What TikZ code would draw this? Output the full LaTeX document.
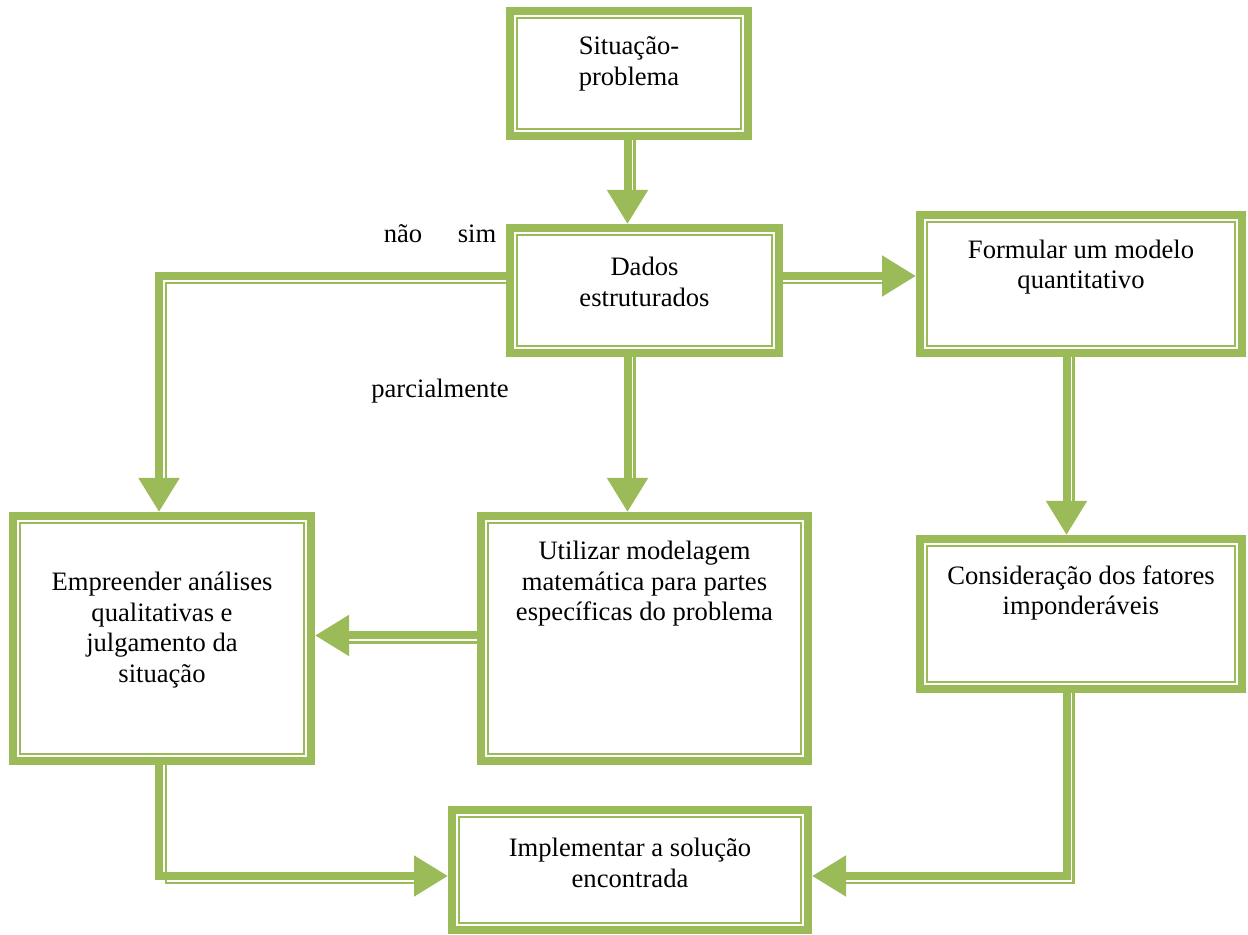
\documentclass[tikz,border=0pt]{standalone}
\usepackage{fontspec}
\setmainfont{Liberation Serif}
\usetikzlibrary{arrows.meta}
\definecolor{verde}{RGB}{155,187,89}
\newcommand{\fonte}{\fontsize{13.3}{15.3}\selectfont}
% box: name, left, top, right, bottom (outer edges), text y, text
\newcommand{\caixa}[7]{
	\pgfmathsetmacro{\largura}{(#4-#2)*50-4}
	\pgfmathsetmacro{\altura}{(#3-#5)*50-4}
	\node[bloco, minimum width=\largura pt, minimum height=\altura pt] (#1) at ({(#2+#4)/2},{(#3+#5)/2}) {};
	\draw[interno] ([shift={(5.5pt,-5.5pt)}]#1.north west) rectangle ([shift={(-5.5pt,5.5pt)}]#1.south east);
	\node[texto] (#1-t) at ({(#2+#4)/2},#6) {#7};
	}

\begin{document}
\begin{tikzpicture}[
      x=50pt, y=50pt,
      bloco/.style={draw=verde, fill=white, line width=4pt, outer sep=2pt, inner sep=0pt},
      interno/.style={draw=verde, line width=1pt},
      texto/.style={align=center, font=\fonte, inner sep=0pt},
      grosso/.style={draw=verde, line width=4pt, -{Triangle[length=17pt,width=19.5pt]}},
      fino/.style={draw=verde, line width=1.25pt, shorten >=13pt},
      rotulo/.style={font=\fonte, anchor=base, inner sep=0pt}
    ]
    \useasboundingbox (0,0) rectangle (12.48,9.35);
    % Draw the boxes
    \caixa{sit}{5.06}{9.28}{7.52}{7.95}{8.71}{Situação-\\problema};
    \caixa{dad}{5.06}{7.11}{7.83}{5.78}{6.53}{Dados\\estruturados};
    \caixa{form}{9.16}{7.24}{12.46}{5.78}{6.68}{Formular um modelo\\quantitativo};
    \caixa{util}{4.77}{4.23}{8.12}{1.70}{3.51}{Utilizar modelagem\\matemática para partes\\específicas do problema};
    \caixa{emp}{0.09}{4.23}{3.15}{1.70}{3.05}{Empreender análises\\qualitativas e\\julgamento da\\situação};
    \caixa{cons}{9.16}{4.00}{12.46}{2.42}{3.42}{Consideração dos fatores\\imponderáveis};
    \caixa{impl}{4.48}{1.29}{8.12}{0.01}{0.72}{Implementar a solução\\encontrada};
    % Lines of the connectors
    \coordinate (eixoC) at (6.275,6.59);
    \coordinate (eixoE) at (1.59,0.59);
    \coordinate (eixoD) at (10.665,2.995);
    % Draw the connectors
    \draw[grosso] (sit.south -| eixoC) -- (dad.north -| eixoC);
    \draw[fino, transform canvas={xshift=3.6pt}] (sit.south -| eixoC) -- (dad.north -| eixoC);
    \draw[grosso] (dad.south -| eixoC) -- (util.north -| eixoC);
    \draw[fino, transform canvas={xshift=3.6pt}] (dad.south -| eixoC) -- (util.north -| eixoC);
    \draw[grosso] (dad.east |- eixoC) -- (form.west |- eixoC);
    \draw[fino, transform canvas={yshift=-3.6pt}] (dad.east |- eixoC) -- (form.west |- eixoC);
    \draw[grosso] (dad.west |- eixoC) -| (emp.north -| eixoE);
    \draw[fino, transform canvas={shift={(3.6pt,-3.6pt)}}] (dad.west |- eixoC) -| (emp.north -| eixoE);
    \draw[grosso] (util.west |- eixoD) -- (emp.east |- eixoD);
    \draw[fino, transform canvas={yshift=-3.6pt}] (util.west |- eixoD) -- (emp.east |- eixoD);
    \draw[grosso] (form.south -| eixoD) -- (cons.north -| eixoD);
    \draw[fino, transform canvas={xshift=3.6pt}] (form.south -| eixoD) -- (cons.north -| eixoD);
    \draw[grosso] (cons.south -| eixoD) |- (impl.east |- eixoE);
    \draw[fino, shorten <=-3.6pt, transform canvas={shift={(3.6pt,-3.6pt)}}] (cons.south -| eixoD) |- (impl.east |- eixoE);
    \draw[grosso] (emp.south -| eixoE) |- (impl.west |- eixoE);
    \draw[fino, shorten <=-3.6pt, transform canvas={shift={(3.6pt,-3.6pt)}}] (emp.south -| eixoE) |- (impl.west |- eixoE);
    % Labels of the answers
    \node[rotulo] (nao) at (4.03,6.92) {não};
    \node[rotulo] (sim) at (4.77,6.92) {sim};
    \node[rotulo] (parc) at (4.40,5.37) {parcialmente};
\end{tikzpicture}
\end{document}
